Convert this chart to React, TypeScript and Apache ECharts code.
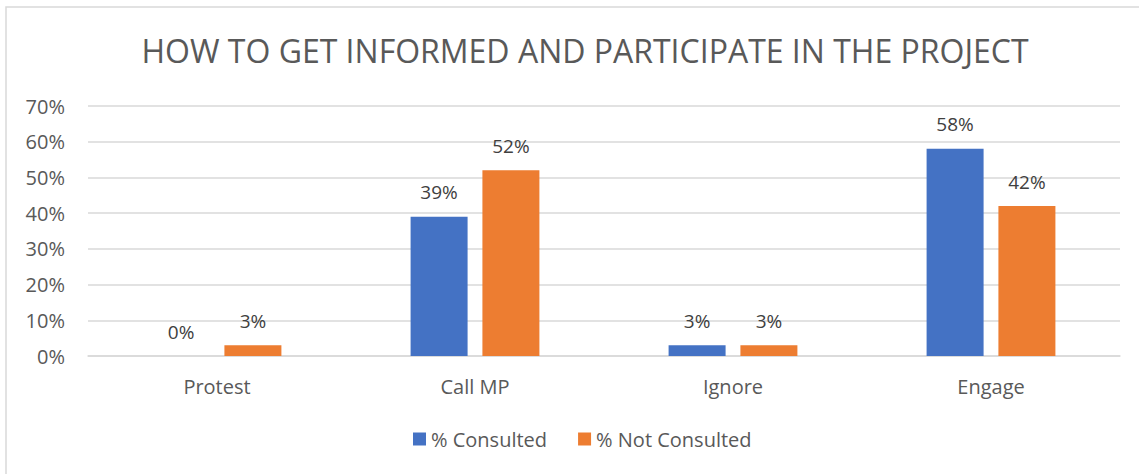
import React, { useEffect, useRef } from "react";
import * as echarts from "echarts";

const categories = ["Protest", "Call MP", "Ignore", "Engage"];
const consulted = [0, 39, 3, 58];
const notConsulted = [3, 52, 3, 42];
const seriesNames = ["% Consulted", "% Not Consulted"];
const titleText = "HOW TO GET INFORMED AND PARTICIPATE IN THE PROJECT";

const FONT = "'Open Sans', 'Noto Sans', sans-serif";

export default function App() {
  const ref = useRef<HTMLDivElement>(null);
  useEffect(() => {
    document.body.style.margin = "0";
    const chart = echarts.init(ref.current!, null, { renderer: "svg" });
    const label = {
      show: true,
      position: "top" as const,
      distance: 15,
      color: "#404040",
      fontSize: 19,
      fontFamily: FONT,
      formatter: (p: any) => p.value + "%",
    };
    chart.setOption({
      animation: false,
      backgroundColor: "#fff",
      textStyle: { fontFamily: FONT },
      graphic: [
        {
          type: "rect",
          shape: { x: 6, y: 7, width: 1200, height: 600 },
          style: { fill: "none", stroke: "#d9d9d9", lineWidth: 1.5 },
          silent: true,
        },
      ],
      title: {
        text: titleText,
        left: 580,
        top: 29,
        textAlign: "center",
        textStyle: {
          fontFamily: FONT,
          fontSize: 32,
          fontWeight: "normal",
          color: "#595959",
        },
      },
      legend: {
        data: seriesNames,
        top: 424,
        left: 408,
        itemWidth: 13,
        itemHeight: 13,
        itemGap: 31,
        icon: "rect",
        textStyle: { fontFamily: FONT, fontSize: 20, color: "#595959" },
      },
      grid: { left: 88, right: 19, top: 106, bottom: 118 },
      xAxis: {
        type: "category",
        data: categories,
        axisLine: { show: true, lineStyle: { color: "#d9d9d9", width: 1.5 } },
        axisTick: { show: false },
        axisLabel: { color: "#595959", fontSize: 20, fontFamily: FONT, margin: 20 },
      },
      yAxis: {
        type: "value",
        min: 0,
        max: 70,
        interval: 10,
        axisLine: { show: false },
        axisTick: { show: false },
        splitLine: { lineStyle: { color: "#d9d9d9", width: 1.5 } },
        axisLabel: {
          color: "#595959",
          fontSize: 20,
          fontFamily: FONT,
          margin: 23,
          formatter: (v: number) => v + "%",
        },
      },
      series: [
        {
          name: seriesNames[0],
          type: "bar",
          data: consulted,
          barWidth: 57,
          barGap: "26%",
          itemStyle: { color: "#4472C4" },
          label,
        },
        {
          name: seriesNames[1],
          type: "bar",
          data: notConsulted,
          barWidth: 57,
          barGap: "26%",
          itemStyle: { color: "#ED7D31" },
          label,
        },
      ],
    });
    return () => chart.dispose();
  }, []);
  return (
    <div
      ref={ref}
      style={{ position: "absolute", left: 0, top: 0, width: 1139, height: 474 }}
    />
  );
}
